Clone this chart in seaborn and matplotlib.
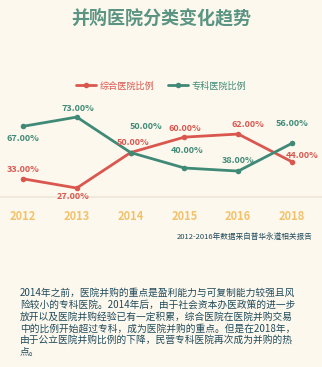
import pandas as pd
import matplotlib.pyplot as plt
import seaborn as sns

# data
years = ['2012', '2013', '2014', '2015', '2016', '2018']
general = [33, 27, 50, 60, 62, 44]      # 综合医院比例
special = [67, 73, 50, 40, 38, 56]      # 专科医院比例
series_names = ['综合医院比例', '专科医院比例']

red = '#d9574f'
green = '#3f8a77'
bg = '#fdf8ee'

sns.set_style('white')
plt.rcParams['font.family'] = ['Noto Sans CJK SC', 'DejaVu Sans']

df = pd.DataFrame({
    'x': list(range(len(years))) * 2,
    'val': general + special,
    'kind': [series_names[0]] * len(years) + [series_names[1]] * len(years),
})

fig = plt.figure(figsize=(3.22, 3.67), dpi=100, facecolor=bg)
ax = fig.add_axes([0, 1 - 197 / 367, 1, 102 / 367])
ax.set_facecolor(bg)

sns.lineplot(data=df, x='x', y='val', hue='kind', palette=[red, green],
             marker='o', markersize=4, markeredgewidth=0, linewidth=2, ax=ax)

ax.set_xlim(-0.427, 5.557)
ax.set_ylim(21.2, 87.3)
ax.set_xticks(range(len(years)))
ax.set_xticklabels(years, color='#f2c26b', fontweight='bold', fontsize=8)
ax.tick_params(axis='x', length=0, pad=9)
ax.set_yticks([])
ax.set_xlabel('')
ax.set_ylabel('')
for s in ['top', 'left', 'right']:
    ax.spines[s].set_visible(False)
ax.spines['bottom'].set_color('#f1e9db')
ax.spines['bottom'].set_linewidth(1.5)

# value labels, offsets in pixels
red_off = [(0, 9), (-4, -8), (2, 10), (0, 9), (10, 10), (10, 6)]
green_off = [(0, -12), (1, 9), (15, 26), (3, 17), (0, 11), (0, 20)]
for vals, offs, c in [(general, red_off, red), (special, green_off, green)]:
    for i, (v, o) in enumerate(zip(vals, offs)):
        ax.annotate(f'{v:.2f}%', (i, v), xytext=(o[0] / 1.389, o[1] / 1.389),
                    textcoords='offset points', ha='center', va='center',
                    color=c, fontsize=6.5, fontweight='bold')

ax.legend(loc='center', bbox_to_anchor=(0.5, 1 - 86 / 367), bbox_transform=fig.transFigure,
          ncol=2, frameon=False, fontsize=6.6, handlelength=2.2, columnspacing=1.5,
          labelcolor=[red, green], handletextpad=0.4)

fig.text(0.5, 1 - 18 / 367, '并购医院分类变化趋势', ha='center', va='center',
         fontsize=13, fontweight='heavy', color='#5a9483')

fig.text(312 / 322, 1 - 237 / 367, '2012-2016年数据来自普华永道相关报告', ha='right',
         va='center', fontsize=5.5, color='#1f4a5a', fontweight='medium')

para = [
    '2014年之前，医院并购的重点是盈利能力与可复制能力较强且风',
    '险较小的专科医院。2014年后，由于社会资本办医政策的进一步',
    '放开以及医院并购经验已有一定积累，综合医院在医院并购交易',
    '中的比例开始超过专科，成为医院并购的重点。但是在2018年，',
    '由于公立医院并购比例的下降，民营专科医院再次成为并购的热',
    '点。',
]
for k, line in enumerate(para):
    fig.text(20 / 322, 1 - (293 + k * 11.8) / 367, line, ha='left', va='center',
             fontsize=7, color='#1f4a5a', fontweight='medium')

fig.savefig('out.png', dpi=100, facecolor=bg)
